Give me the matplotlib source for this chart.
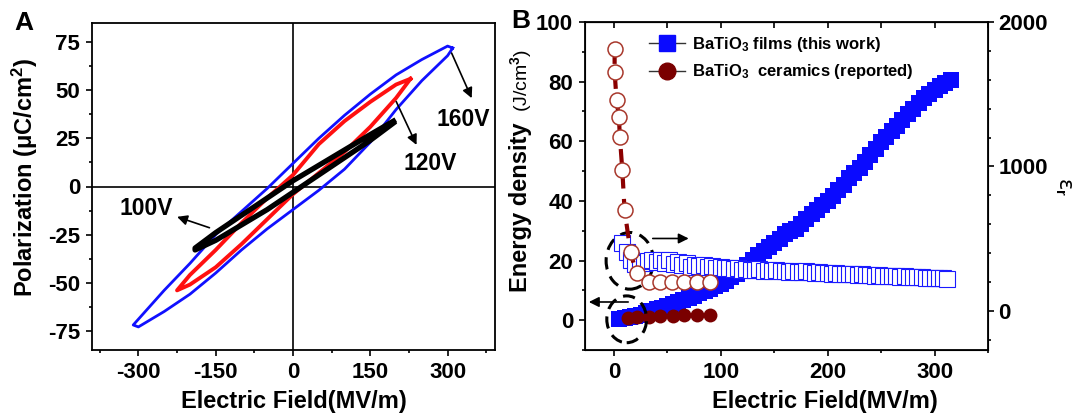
import numpy as np
import matplotlib.pyplot as plt
from matplotlib.patches import Ellipse
from matplotlib.lines import Line2D
from matplotlib.ticker import MultipleLocator

plt.rcParams['font.family'] = ['Liberation Sans', 'DejaVu Sans']
plt.rcParams['font.weight'] = 'bold'
plt.rcParams['axes.unicode_minus'] = False
plt.rcParams['mathtext.fontset'] = 'custom'
plt.rcParams['mathtext.rm'] = 'Liberation Sans:bold'
plt.rcParams['mathtext.bf'] = 'Liberation Sans:bold'
plt.rcParams['mathtext.it'] = 'Liberation Sans:bold'

# ---- panel A: P-E loops (upper branch going down, lower branch going up)
e160_up = [310, 300, 250, 200, 150, 100, 50, 0, -50, -100, -150, -200, -250, -300, -310]
p160_up = [72, 73, 66, 58, 48, 37, 25, 12, -1, -13, -25, -40, -54, -69, -72]
e160_dn = [-310, -300, -250, -200, -150, -100, -50, 0, 50, 100, 150, 200, 250, 300, 310]
p160_dn = [-72, -73, -65, -56, -45, -33, -22, -12, -2, 9, 23, 40, 55, 68, 72]

e120_up = [228, 200, 150, 100, 50, 0, -50, -100, -150, -200, -225]
p120_up = [56, 53, 44, 34, 22, 6, -6, -19, -33, -46, -54]
e120_dn = [-225, -200, -150, -100, -50, 0, 50, 100, 150, 200, 228]
p120_dn = [-54, -51, -42, -30, -17, -4, 7, 18, 31, 46, 56]

e100_up = [195, 150, 100, 50, 0, -50, -100, -150, -190]
p100_up = [34, 27, 19, 11, 3, -6, -15, -24, -32]
e100_dn = [-190, -150, -100, -50, 0, 50, 100, 150, 195]
p100_dn = [-33, -28, -20, -12, -3, 6, 15, 24, 33]

# ---- panel B: energy density and permittivity
film_e = [5, 10, 15, 20, 25, 30, 35, 40, 45, 50, 55, 60, 65, 70, 75, 80, 85, 90,
          95, 100, 105, 110, 115, 120, 125, 130, 135, 140, 145, 150, 155, 160,
          165, 170, 175, 180, 185, 190, 195, 200, 205, 210, 215, 220, 225, 230,
          235, 240, 245, 250, 255, 260, 265, 270, 275, 280, 285, 290, 295, 300,
          305, 310, 315]
film_w = [0.4, 0.6, 0.9, 1.3, 1.8, 2.4, 3.0, 3.6, 4.2, 4.9, 5.5, 6.1, 6.8, 7.5,
          8.2, 9.0, 9.8, 10.6, 11.4, 12.3, 13.3, 14.4, 15.6, 17.0, 18.6, 20.2,
          21.8, 23.2, 24.5, 25.8, 27.2, 28.8, 29.8, 30.6, 32.2, 34.0, 35.5, 37.0,
          38.5, 40.0, 41.5, 43.5, 45.5, 47.6, 49.5, 51.2, 53.2, 55.3, 57.4, 59.6,
          61.6, 63.4, 65.2, 67.0, 69.0, 70.9, 72.8, 74.5, 76.0, 77.3, 78.6, 79.7,
          80.6]

film_er_e = [8, 12, 16, 20, 24, 28, 32, 36, 40, 44, 48, 52, 56, 60, 64, 68, 72,
             76, 80, 84, 88, 92, 96, 100, 104, 108, 112, 116, 120, 124, 128, 132,
             136, 140, 144, 148, 152, 156, 160, 164, 168, 172, 176, 180, 184, 188,
             192, 196, 200, 204, 208, 212, 216, 220, 224, 228, 232, 236, 240, 244,
             248, 252, 256, 260, 264, 268, 272, 276, 280, 284, 288, 292, 296, 300,
             304, 308, 312]
film_er = [470, 405, 350, 325, 335, 330, 345, 350, 340, 355, 335, 350, 325, 340,
           315, 330, 305, 320, 310, 315, 305, 310, 300, 305, 295, 300, 290, 295,
           285, 290, 285, 283, 288, 280, 285, 277, 283, 275, 280, 270, 277, 273,
           267, 275, 270, 263, 267, 260, 263, 257, 260, 255, 258, 253, 255, 250,
           253, 248, 251, 245, 248, 243, 245, 240, 243, 237, 240, 235, 237, 233,
           234, 230, 231, 227, 228, 225, 223]

cer_e = [13, 22, 33, 43, 55, 66, 78, 90]
cer_w = [0.6, 0.9, 1.1, 1.3, 1.5, 1.6, 1.7, 1.8]

cer_er_e = [0.7, 0.7, 2.5, 4.7, 5.6, 7.9, 10, 15.6, 21.2, 32.7, 43, 54.6, 66, 78, 89.7]
cer_er = [1811, 1656, 1460, 1345, 1206, 976, 700, 406, 260, 203, 199, 199, 199, 199, 199]

W, H = 1073, 417
fig = plt.figure(figsize=(W / 100, H / 100), dpi=100)


def frac(x0, y0, x1, y1):
    return [x0 / W, 1 - y1 / H, (x1 - x0) / W, (y1 - y0) / H]


tick_fs = 16
lab_fs = 17

# ================= panel A =================
ax = fig.add_axes(frac(92, 23, 495, 350))
ax.plot(e160_up + e160_dn, p160_up + p160_dn, color='#1010ff', lw=2)
ax.plot(e120_up + e120_dn, p120_up + p120_dn, color='#ff1010', lw=2.8)
ax.plot(e100_up + e100_dn, p100_up + p100_dn, color='black', lw=3.8)
ax.axhline(0, color='k', lw=1.2, zorder=0)
ax.axvline(0, color='k', lw=1.2, zorder=0)
ax.set_xlim(-390, 392)
ax.set_ylim(-85, 85)
ax.xaxis.set_major_locator(MultipleLocator(150))
ax.xaxis.set_minor_locator(MultipleLocator(75))
ax.yaxis.set_major_locator(MultipleLocator(25))
ax.yaxis.set_minor_locator(MultipleLocator(12.5))
ax.tick_params(which='both', direction='out', width=1.2, labelsize=tick_fs)
ax.tick_params(which='major', length=4.5, pad=4)
ax.tick_params(which='minor', length=2.5)
for s in ax.spines.values():
    s.set_linewidth(1.3)

arr = dict(arrowstyle='-|>', color='k', lw=1.2, mutation_scale=15)
ax.annotate('', xy=(349, 44.6), xytext=(305.6, 70.7), arrowprops=arr)
ax.text(331, 35, '160V', ha='center', va='center', fontsize=16.5)
ax.annotate('', xy=(242, 20.3), xytext=(198, 45.5), arrowprops=arr)
ax.text(267, 12, '120V', ha='center', va='center', fontsize=16.5)
ax.annotate('', xy=(-230, -15.3), xytext=(-157, -21.9), arrowprops=arr)
ax.text(-284, -11.4, '100V', ha='center', va='center', fontsize=16.5)

ax.text(0.5, -0.156, 'Electric Field(MV/m)', transform=ax.transAxes,
        ha='center', va='center', fontsize=lab_fs)
ax.text(-0.166, 0.527, 'Polarization (μC/cm$^2$)', transform=ax.transAxes,
        ha='center', va='center', rotation=90, fontsize=lab_fs)
fig.text(24 / W, 1 - 23 / H, 'A', ha='center', va='center', fontsize=19)

# ================= panel B =================
bx = fig.add_axes(frac(585, 22, 988, 350))
bx.plot(film_e, film_w, 's', color='#0a0aff', ms=12, mew=0, zorder=3)
bx.plot(cer_e, cer_w, 'o', color='#7a0000', ms=10, mew=0, zorder=4)
bx.set_xlim(-27, 350)
bx.set_ylim(-10, 100)
bx.xaxis.set_major_locator(MultipleLocator(100))
bx.xaxis.set_minor_locator(MultipleLocator(50))
bx.yaxis.set_major_locator(MultipleLocator(20))
bx.yaxis.set_minor_locator(MultipleLocator(10))
bx.tick_params(which='both', direction='out', width=1.2, labelsize=tick_fs)
bx.tick_params(which='major', length=4.5, pad=4)
bx.tick_params(which='minor', length=2.5)
for s in bx.spines.values():
    s.set_linewidth(1.3)

top = bx.secondary_xaxis('top')
top.set_xticks([0, 50, 100, 150, 200, 250, 300, 350])
top.tick_params(direction='in', length=4, width=1.2, labeltop=False)

bx2 = bx.twinx()
bx2.plot(film_er_e, film_er, 's', mfc='white', mec='#1a1aff', mew=0.8, ms=11.5)
bx2.plot(cer_er_e, cer_er, color='#8b0000', lw=3, ls=(0, (3.5, 2.5)), marker='o',
         mfc='white', mec='#a8382c', mew=1.1, ms=10.8)
bx2.set_ylim(-270, 2000)
bx2.yaxis.set_major_locator(MultipleLocator(1000))
bx2.yaxis.set_minor_locator(MultipleLocator(200))
bx2.tick_params(which='both', direction='out', width=1.2, labelsize=tick_fs)
bx2.tick_params(which='major', length=4.5, pad=3)
bx2.tick_params(which='minor', length=2.5)
bx2.set_ylabel('ε$_{\\rm r}$', rotation=270, fontsize=15, fontweight='normal',
               family='DejaVu Sans', labelpad=18)

# dashed circles and arrows
dash = dict(fill=False, ec='k', lw=2.2, ls=(0, (4, 2.5)), transform=bx.transData)
bx2.add_patch(Ellipse((14.9, 19.9), 44.3, 19.0, **dash))
bx2.add_patch(Ellipse((12, 0.3), 37.2, 15.7, **dash))
bx2.annotate('', xy=(72.6, 27.4), xytext=(33.8, 27.4), xycoords=bx.transData,
             textcoords=bx.transData, arrowprops=arr)
bx2.annotate('', xy=(-26, 6.1), xytext=(16, 6.1), xycoords=bx.transData,
             textcoords=bx.transData, arrowprops=arr, annotation_clip=False)

handles = [
    Line2D([], [], color='#333333', lw=1, marker='s', mfc='#0a0aff', mec='#0a0aff', ms=11),
    Line2D([], [], color='#333333', lw=1, marker='o', mfc='#7a0000', mec='#7a0000', ms=12),
]
labels = ['BaTiO$_3$ films (this work)', 'BaTiO$_3$  ceramics (reported)']
bx2.legend(handles, labels, loc='upper left', bbox_to_anchor=(0.158, 0.96),
           frameon=False, fontsize=12, handlelength=2.2, handletextpad=0.4,
           labelspacing=0.5, borderpad=0, borderaxespad=0)

bx.text(0.596, -0.156, 'Electric Field(MV/m)', transform=bx.transAxes,
        ha='center', va='center', fontsize=lab_fs)
bx.text(-0.159, 0.436, 'Energy density', transform=bx.transAxes,
        ha='center', va='center', rotation=90, fontsize=lab_fs)
bx.text(-0.159, 0.823, '(J/cm$^3$)', transform=bx.transAxes,
        ha='center', va='center', rotation=90, fontsize=14, fontweight='normal')
fig.text(521 / W, 1 - 21 / H, 'B', ha='center', va='center', fontsize=19)

fig.savefig('out.png', dpi=100)
